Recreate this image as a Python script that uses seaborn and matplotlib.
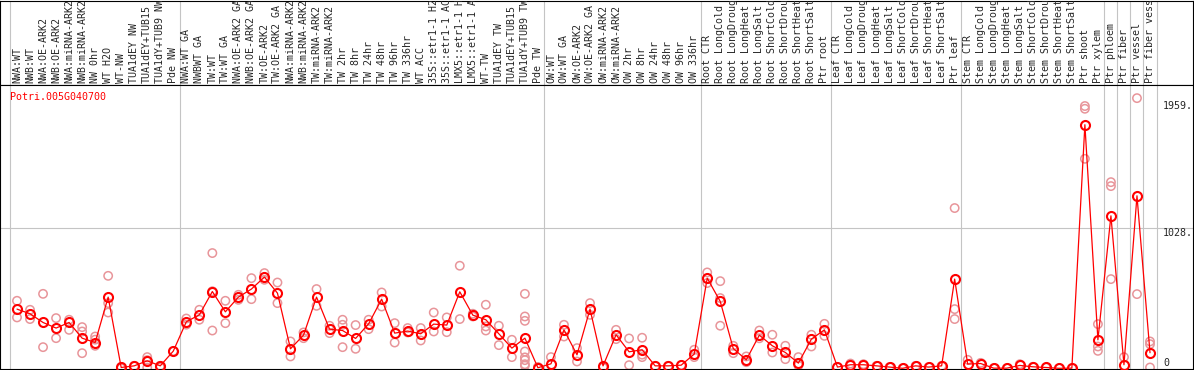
import numpy as np
import pandas as pd
import seaborn as sns
import matplotlib.pyplot as plt
from matplotlib.transforms import blended_transform_factory

sns.set_style("white")
plt.rcParams["font.family"] = ["DejaVu Sans Mono", "DejaVu Sans"]

## --- data
gene = "Potri.005G040700"

labels = [
    "NWA:WT", "NWB:WT", "NWA:OE-ARK2", "NWB:OE-ARK2", "NWA:miRNA-ARK2", "NWB:miRNA-ARK2",
    "NW 0hr", "WT H2O", "WT-NW", "TUA1dEY NW", "TUA1dEY+TUB15", "TUA1dY+TUB9 NW", "Pde NW",
    "NWA:WT GA", "NWBWT GA", "TW:WT", "TW:WT GA", "NWA:OE-ARK2 GA", "NWB:OE-ARK2 GA",
    "TW:OE-ARK2", "TW:OE-ARK2 GA", "NWA:miRNA-ARK2", "NWB:miRNA-ARK2", "TW:miRNA-ARK2",
    "TW:miRNA-ARK2", "TW 2hr", "TW 8hr", "TW 24hr", "TW 48hr", "TW 96hr", "TW 336hr",
    "WT ACC", "35S::etr1-1 H2", "35S::etr1-1 AC", "LMX5::etr1-1 H", "LMX5::etr1-1 A",
    "WT-TW", "TUA1dEY TW", "TUA1dEY+TUB15", "TUA1dY+TUB9 TW", "Pde TW",
    "OW:WT", "OW:WT GA", "OW:OE-ARK2", "OW:OE-ARK2 GA", "OW:miRNA-ARK2", "OW:miRNA-ARK2",
    "OW 2hr", "OW 8hr", "OW 24hr", "OW 48hr", "OW 96hr", "OW 336hr",
    "Root CTR", "Root LongCold", "Root LongDroug", "Root LongHeat", "Root LongSalt",
    "Root ShortCold", "Root ShortDrou", "Root ShortHeat", "Root ShortSalt", "Ptr root",
    "Leaf CTR", "Leaf LongCold", "Leaf LongDroug", "Leaf LongHeat", "Leaf LongSalt",
    "Leaf ShortCold", "Leaf ShortDrou", "Leaf ShortHeat", "Leaf ShortSalt", "Ptr leaf",
    "Stem CTR", "Stem LongCold", "Stem LongDroug", "Stem LongHeat", "Stem LongSalt",
    "Stem ShortCold", "Stem ShortDrou", "Stem ShortHeat", "Stem ShortSalt",
    "Ptr shoot", "Ptr xylem", "Ptr phloem", "Ptr fiber", "Ptr vessel", "Ptr fiber vess",
]

mean_expr = [
    434, 400, 336, 295, 336, 221, 189, 522, 6, 18, 55, 18, 126,
    341, 392, 563, 414, 522, 581, 669, 551, 143, 243, 522, 287, 277, 219, 326, 507,
    258, 273, 253, 324, 317, 561, 390, 356, 253, 148, 221, 4,
    33, 282, 99, 434, 18, 246, 121, 136, 18, 18, 23, 104,
    661, 490, 145, 62, 243, 165, 116, 38, 214, 282,
    9, 26, 26, 18, 9, 0, 18, 9, 18, 654,
    31, 35, 1, 1, 21, 11, 6, 0, 1,
    1786, 209, 1118, 26, 1265, 114,
]

rep_expr = [
    [495, 373], [429, 361], [546, 155], [368, 221], [356, 282], [302, 270, 111],
    [233, 210, 165], [678, 478, 409], [0, 10], [18], [82, 60, 5], [18, 5], [126],
    [365, 320], [429, 356], [845, 565, 277], [495, 331], [539, 502], [661, 507],
    [698, 649], [629, 478], [197, 87], [263, 221], [581, 458], [312, 258],
    [356, 319, 155], [317, 143], [356, 287], [556, 453], [331, 189], [295, 263],
    [295, 204], [409, 270], [373, 265], [752, 361], [400, 380], [466, 307, 277],
    [312, 170], [209, 82], [546, 380, 348, 123, 80, 60, 30, 20], [0, 10],
    [82], [319, 233], [148, 50], [478, 392], [5], [282, 214], [219, 23],
    [224, 100, 82], [18], [18], [23], [136, 82],
    [703, 625], [639, 515, 312], [165, 111], [87, 45], [277, 220], [246, 116],
    [165, 67], [82, 20], [246, 160], [326, 238],
    [9], [35], [30], [18], [9], [0], [18], [9], [18], [1175, 434, 361],
    [62], [40], [1], [1], [30], [11], [6], [0], [1],
    [1923, 1903, 1536], [324, 160, 128], [1365, 1336, 654], [82], [1981, 544], [197, 177, 6],
]

group_edges = [-0.5, 12.5, 40.5, 52.5, 62.5, 72.5, 83.5, 84.5, 85.5, 86.5, 87.5]
y_ticks = [0, 1028, 1959]
y_tick_labels = ["0", "1028.", "1959."]
## ---

means = pd.DataFrame({"pos": np.arange(len(mean_expr)), "expr": mean_expr})
reps = pd.DataFrame(
    [(i, v) for i, vals in enumerate(rep_expr) for v in vals], columns=["pos", "expr"]
)

W, H = 1194, 370
HEAD = 85
fig = plt.figure(figsize=(W / 100, H / 100), dpi=100)

# pixel -> column mapping: column 0 at x=17px, spacing 13.023px
x0, dx = 17.0, 13.023
xlim = (-x0 / dx, (W - 1 - x0) / dx)

head = fig.add_axes([0, 1 - HEAD / H, (W - 1) / W, HEAD / H - 0.5 / H])
ax = fig.add_axes([0, 1 / H, (W - 1) / W, (H - HEAD - 1) / H])

for a in (head, ax):
    a.set_xlim(*xlim)
    a.set_xticks([])
    a.set_yticks([])
    for s in a.spines.values():
        s.set_color("black")
        s.set_linewidth(0.8)
    for e in group_edges:
        a.axvline(e, color="#c4c4c4", lw=0.8, zorder=0)

# header with rotated sample names
trans = blended_transform_factory(head.transData, head.transAxes)
for i, lab in enumerate(labels):
    head.text(i, 2 / HEAD, lab, rotation=90, ha="center", va="bottom",
              fontsize=7.2, transform=trans, clip_on=True)

# main panel
px_per_unit = 0.13638
ax.set_ylim(-0.7 / px_per_unit, (368.3 - HEAD) / px_per_unit)
ax.axhline(1028, color="#c4c4c4", lw=0.8, zorder=0)

sns.scatterplot(data=reps, x="pos", y="expr", ax=ax, marker="o", s=36,
                facecolors="none", edgecolor="#e8959a", linewidth=1.1, zorder=2)
sns.lineplot(data=means, x="pos", y="expr", ax=ax, color="red", lw=0.9,
             marker="o", markersize=6.5, markerfacecolor="none",
             markeredgecolor="red", markeredgewidth=1.5, zorder=3)
ax.set_xlabel("")
ax.set_ylabel("")
ax.set_xlim(*xlim)

ty = blended_transform_factory(ax.transData, ax.transData)
tx = (1163 - x0) / dx
for v, t in zip(y_ticks, y_tick_labels):
    ax.text(tx, v, t, ha="left", va="bottom" if v == 0 else "top", fontsize=7.2)

fig.text(10 / W, 1 - 97 / H, gene, color="red", fontsize=7.2, ha="left", va="center")

fig.savefig("out.png", dpi=100)
